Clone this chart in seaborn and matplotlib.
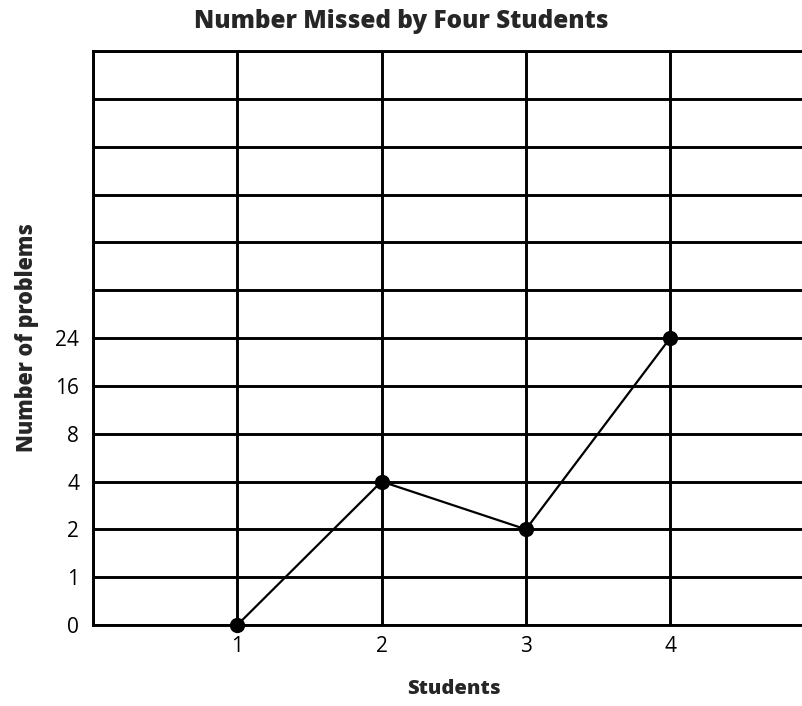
"""
Number Missed by Four Students - line chart on a rank-spaced y axis
"""
import numpy as np
import pandas as pd
import matplotlib
matplotlib.use("Agg")
import matplotlib.pyplot as plt
import seaborn as sns

sns.set_style("white")
plt.rcParams['font.family'] = ['Open Sans', 'DejaVu Sans']

# ---------------------------------------------------------------
# Data
# ---------------------------------------------------------------
students = [1, 2, 3, 4]
missed = [0, 4, 2, 24]
y_tick_labels = ["0", "1", "2", "4", "8", "16", "24"]
x_tick_labels = ["1", "2", "3", "4"]

# the y axis is evenly spaced by label, not by value
pos = [y_tick_labels.index(str(v)) for v in missed]
df = pd.DataFrame({"Students": students, "pos": pos})

# ---------------------------------------------------------------
# Plot
# ---------------------------------------------------------------
fig = plt.figure(figsize=(8.03, 7.06), dpi=100)
W, H = 803, 706
ax = fig.add_axes([93 / W, 1 - 625 / H, 5 * 144.3 / W, (625 - 51) / H])

ax.set_xlim(0, 5)
ax.set_ylim(0, 12)
ax.set_xticks(range(0, 6))
ax.set_yticks(range(0, 13))
ax.grid(True, color='black', linewidth=2.1)
ax.set_axisbelow(True)

sns.lineplot(data=df, x="Students", y="pos", ax=ax, color='black',
             linewidth=1.6, marker='o', markersize=11, markeredgewidth=0,
             clip_on=False, zorder=5)

ax.set_xticklabels([""] + x_tick_labels + [""])
ax.set_yticklabels(y_tick_labels + [""] * (13 - len(y_tick_labels)))
ax.tick_params(axis='both', length=0, labelsize=15, colors='black')
ax.tick_params(axis='x', pad=8)
ax.tick_params(axis='y', pad=10)

for side in ['left', 'bottom', 'top']:
    ax.spines[side].set_color('black')
    ax.spines[side].set_linewidth(2.1)
ax.spines['right'].set_visible(False)

ax.set_xlabel("Students", fontsize=14.5, fontweight='heavy', labelpad=16)
ax.set_ylabel("Number of problems", fontsize=15.5, fontweight='heavy', labelpad=12)
fig.text(0.5, 1 - 21 / H, "Number Missed by Four Students", ha='center', va='center',
         fontsize=17.5, fontweight='heavy')

fig.savefig("out.png", dpi=100)
